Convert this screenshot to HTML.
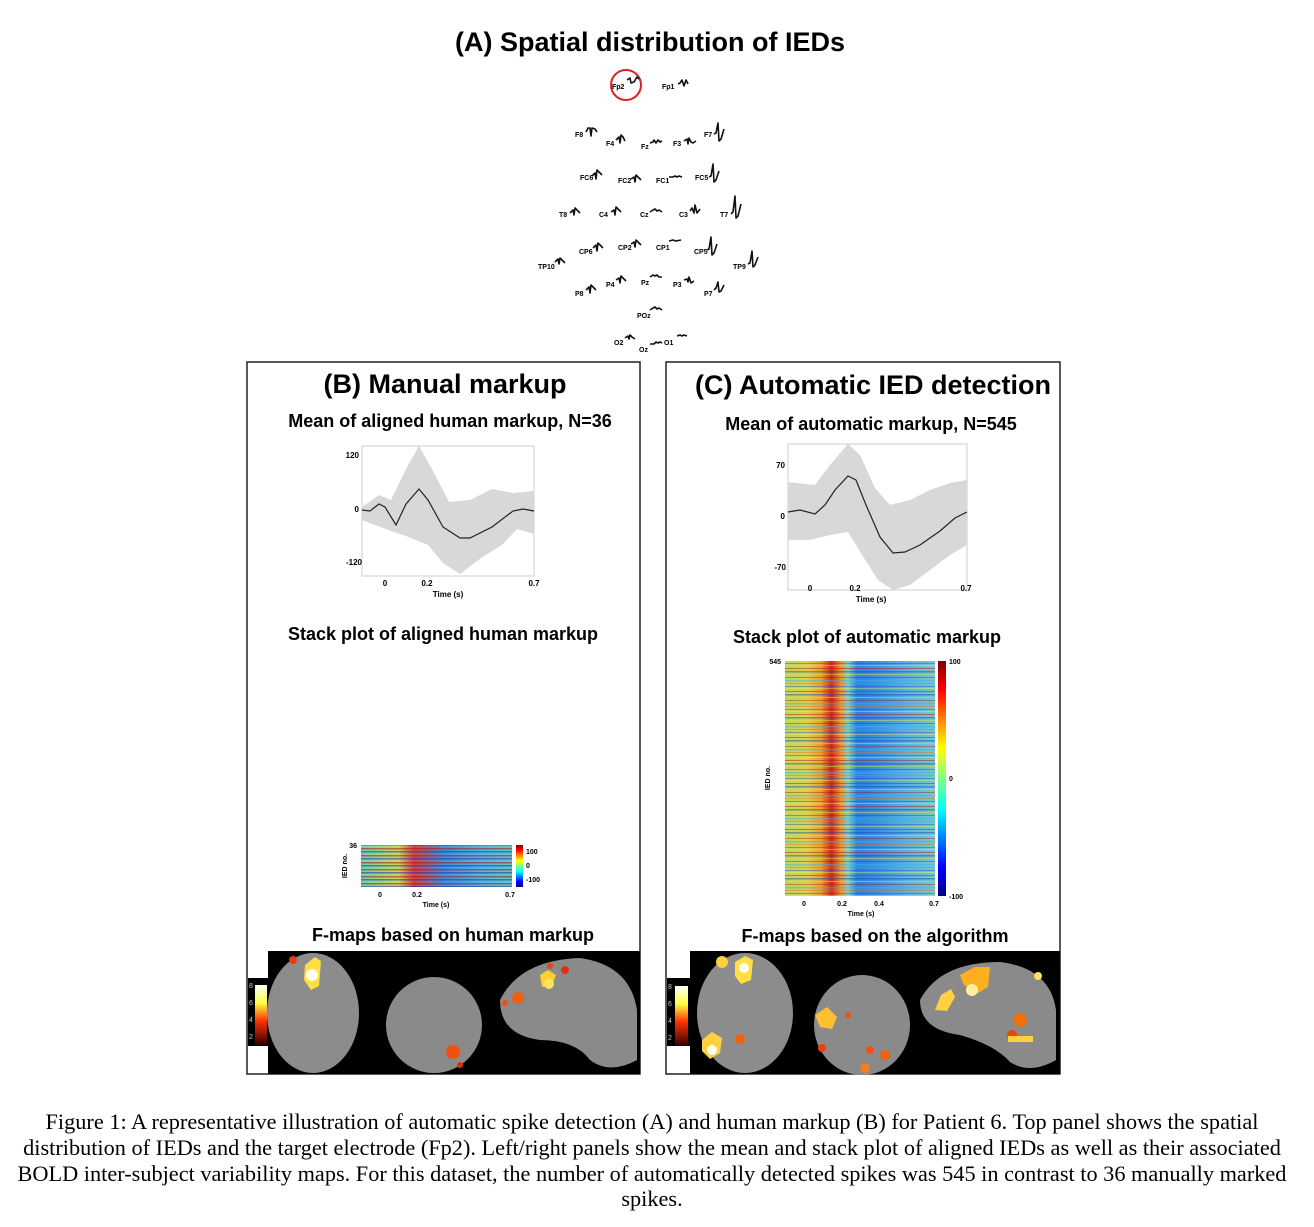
<!DOCTYPE html>
<html><head><meta charset="utf-8"><style>
body{margin:0;background:#fff;width:1314px;height:1227px;overflow:hidden}
svg{display:block}
.t{font-family:"Liberation Sans",sans-serif;font-weight:bold}
.cap{font-family:"Liberation Serif",serif;font-size:22.3px}
.e{font-family:"Liberation Sans",sans-serif;font-weight:bold;font-size:7px}
.w{fill:none;stroke:#111;stroke-width:1.6;stroke-linejoin:round}
</style></head><body>
<svg width="1314" height="1227" viewBox="0 0 1314 1227">
<defs>
<linearGradient id="hc" x1="0" x2="1" y1="0" y2="0">
<stop offset="0" stop-color="#b8d860"/><stop offset="0.15" stop-color="#d8d050"/><stop offset="0.24" stop-color="#e8a030"/>
<stop offset="0.31" stop-color="#c82820"/><stop offset="0.37" stop-color="#e89030"/><stop offset="0.42" stop-color="#80d0c0"/>
<stop offset="0.48" stop-color="#2a84e0"/><stop offset="0.6" stop-color="#3890e0"/><stop offset="0.8" stop-color="#58b0e0"/><stop offset="1" stop-color="#78c8c8"/>
</linearGradient>
<linearGradient id="hb" x1="0" x2="1" y1="0" y2="0">
<stop offset="0" stop-color="#70d0b0"/><stop offset="0.25" stop-color="#c8d858"/><stop offset="0.35" stop-color="#d84040"/>
<stop offset="0.55" stop-color="#4090e0"/><stop offset="0.8" stop-color="#50b8e0"/><stop offset="1" stop-color="#60c8c8"/>
</linearGradient>
<linearGradient id="jet" x1="0" x2="0" y1="0" y2="1">
<stop offset="0" stop-color="#800000"/><stop offset="0.12" stop-color="#ff0000"/><stop offset="0.37" stop-color="#ffff00"/>
<stop offset="0.5" stop-color="#80ff80"/><stop offset="0.63" stop-color="#00ffff"/><stop offset="0.88" stop-color="#0000ff"/><stop offset="1" stop-color="#000080"/>
</linearGradient>
<linearGradient id="hot" x1="0" x2="0" y1="0" y2="1">
<stop offset="0" stop-color="#ffffff"/><stop offset="0.3" stop-color="#ffff40"/><stop offset="0.6" stop-color="#ff3000"/><stop offset="1" stop-color="#300000"/>
</linearGradient>
<pattern id="st" width="150" height="23" patternUnits="userSpaceOnUse">
<rect y="1" width="150" height="1" fill="#c01818" opacity="0.5"/>
<rect y="4" width="150" height="1.5" fill="#1040c0" opacity="0.45"/>
<rect y="7" width="150" height="1" fill="#e0e040" opacity="0.5"/>
<rect y="10" width="150" height="1" fill="#a01010" opacity="0.4"/>
<rect y="13" width="150" height="1.5" fill="#40b0f0" opacity="0.5"/>
<rect y="16" width="150" height="1" fill="#f07020" opacity="0.45"/>
<rect y="19" width="150" height="1" fill="#2050d0" opacity="0.45"/>
<rect y="21" width="150" height="1" fill="#f0f060" opacity="0.4"/>
</pattern>
<pattern id="st2" width="150" height="7" patternUnits="userSpaceOnUse">
<rect y="1" width="150" height="1.5" fill="#b01010" opacity="0.55"/>
<rect y="4" width="150" height="1.5" fill="#1030b0" opacity="0.55"/>
</pattern>
</defs>

<text class="t" x="650" y="51" font-size="27" text-anchor="middle">(A) Spatial distribution of IEDs</text>
<circle cx="626" cy="85" r="15" fill="none" stroke="#e02020" stroke-width="2"/>
<g class="e">
<text x="612" y="89">Fp2</text><text x="662" y="89">Fp1</text>
<text x="575" y="137">F8</text><text x="606" y="146">F4</text><text x="641" y="149">Fz</text><text x="673" y="146">F3</text><text x="704" y="137">F7</text>
<text x="580" y="180">FC6</text><text x="618" y="183">FC2</text><text x="656" y="183">FC1</text><text x="695" y="180">FC5</text>
<text x="559" y="217">T8</text><text x="599" y="217">C4</text><text x="640" y="217">Cz</text><text x="679" y="217">C3</text><text x="720" y="217">T7</text>
<text x="579" y="254">CP6</text><text x="618" y="250">CP2</text><text x="656" y="250">CP1</text><text x="694" y="254">CP5</text>
<text x="538" y="269">TP10</text><text x="733" y="269">TP9</text>
<text x="575" y="296">P8</text><text x="606" y="287">P4</text><text x="641" y="285">Pz</text><text x="673" y="287">P3</text><text x="704" y="296">P7</text>
<text x="637" y="318">POz</text><text x="614" y="345">O2</text><text x="639" y="352">Oz</text><text x="664" y="345">O1</text>
</g>
<g class="w">
<path d="M627,80 l3,-2 l1,5 l3,-1 l3,-5 l2,2"/>
<path d="M678,84 l2,-1 l2,-3 l2,6 l2,-6 l2,4"/>
<path d="M586,132 l2,-4 l2,0 l1,8 l1,-8 l3,1 l2,3"/>
<path d="M616,140 l3,-3 l1,6 l1,-8 l2,2 l2,4"/>
<path d="M650,143 l3,-1 l1,-2 l2,3 l2,-3 l2,2 l2,-1"/>
<path d="M684,141 l3,-2 l1,5 l1,-6 l2,4 l2,1 l3,-2"/>
<path d="M714,134 l2,-1 l2,-10 l1,18 l2,-2 l3,-10"/>
<path d="M592,176 l3,-3 l1,6 l1,-9 l2,2 l3,3"/>
<path d="M631,179 l3,-2 l1,5 l1,-7 l2,2 l3,3"/>
<path d="M669,177 l4,0 l2,-1 l2,1 l2,-1 l3,1"/>
<path d="M709,177 l2,-1 l2,-12 l1,18 l2,-2 l3,-9"/>
<path d="M570,213 l3,-3 l1,5 l1,-7 l2,2 l3,3"/>
<path d="M611,212 l3,-2 l1,5 l1,-8 l2,2 l3,3"/>
<path d="M650,212 l3,-2 l2,-1 l2,2 l2,-1 l3,2"/>
<path d="M690,211 l2,-3 l2,5 l1,-8 l2,8 l3,-4"/>
<path d="M731,214 l2,-2 l2,-16 l1,22 l2,-2 l3,-12"/>
<path d="M593,248 l3,-3 l1,6 l1,-8 l2,2 l3,3"/>
<path d="M631,244 l3,-2 l1,5 l1,-7 l2,2 l3,3"/>
<path d="M669,241 l4,-1 l3,1 l5,-1"/>
<path d="M707,250 l2,-1 l2,-12 l1,18 l2,-2 l3,-9"/>
<path d="M555,262 l3,-3 l1,5 l1,-6 l2,2 l3,3"/>
<path d="M748,264 l2,-1 l2,-12 l1,16 l2,-2 l3,-8"/>
<path d="M586,290 l3,-3 l1,6 l1,-8 l2,2 l3,3"/>
<path d="M616,280 l3,-2 l1,5 l1,-7 l2,2 l3,3"/>
<path d="M650,277 l3,-2 l2,1 l2,-1 l2,2 l3,0"/>
<path d="M684,280 l3,-1 l1,3 l1,-5 l2,6 l3,-2"/>
<path d="M714,290 l2,-2 l2,-6 l1,10 l2,-1 l3,-6"/>
<path d="M650,310 l3,-2 l2,-1 l2,2 l2,-1 l3,2"/>
<path d="M625,338 l3,-2 l1,3 l1,-4 l2,2 l3,2"/>
<path d="M650,344 l4,0 l2,-2 l2,1 l2,-1 l2,1"/>
<path d="M677,336 l3,-1 l2,1 l2,-1 l3,1"/>
</g>

<rect x="247" y="362" width="393" height="712" fill="none" stroke="#222" stroke-width="1.5"/>
<rect x="666" y="362" width="394" height="712" fill="none" stroke="#222" stroke-width="1.5"/>

<text class="t" x="445" y="393" font-size="27" text-anchor="middle">(B) Manual markup</text>
<text class="t" x="450" y="427" font-size="18" text-anchor="middle">Mean of aligned human markup, N=36</text>
<rect x="362" y="446" width="172" height="130" fill="#fff" stroke="#ccc"/>
<path d="M362,507 L379,495 L391,500 L406,469 L419,446 L432,469 L449,502 L470,500 L492,489 L513,493 L534,491 L534,534 L517,529 L502,545 L481,558 L460,574 L443,563 L428,545 L406,536 L391,531 L362,520Z" fill="#d8d8d8"/>
<polyline fill="none" stroke="#222" stroke-width="1.2" points="362,510 370,511 379,504 385,507 396,525 406,504 419,489 428,500 443,527 460,538 470,538 492,527 513,511 523,509 534,511"/>
<g class="t" font-size="8">
<text x="359" y="458" text-anchor="end">120</text><text x="359" y="512" text-anchor="end">0</text><text x="362" y="565" text-anchor="end">-120</text>
<text x="385" y="586" text-anchor="middle">0</text><text x="427" y="586" text-anchor="middle">0.2</text><text x="534" y="586" text-anchor="middle">0.7</text>
<text x="448" y="597" text-anchor="middle">Time (s)</text>
</g>
<text class="t" x="443" y="640" font-size="18" text-anchor="middle">Stack plot of aligned human markup</text>
<rect x="361" y="845" width="151" height="42" fill="url(#hb)"/>
<rect x="361" y="845" width="151" height="42" fill="url(#st2)"/>
<rect x="516" y="845" width="7" height="42" fill="url(#jet)"/>
<g class="t" font-size="7">
<text x="357" y="848" text-anchor="end">36</text>
<text x="347" y="866" text-anchor="middle" transform="rotate(-90 347 866)">IED no.</text>
<text x="526" y="854">100</text><text x="526" y="868">0</text><text x="526" y="882">-100</text>
<text x="380" y="897" text-anchor="middle">0</text><text x="417" y="897" text-anchor="middle">0.2</text><text x="510" y="897" text-anchor="middle">0.7</text>
<text x="436" y="907" text-anchor="middle">Time (s)</text>
</g>
<text class="t" x="453" y="941" font-size="18" text-anchor="middle">F-maps based on human markup</text>
<rect x="268" y="951" width="372" height="123" fill="#000"/>
<rect x="248" y="978" width="20" height="68" fill="#000"/>
<rect x="255" y="985" width="12" height="60" fill="url(#hot)"/>
<g fill="#ccc" font-family="Liberation Sans" font-size="7"><text x="249" y="988">8</text><text x="249" y="1005">6</text><text x="249" y="1022">4</text><text x="249" y="1039">2</text></g>
<ellipse cx="313" cy="1013" rx="46" ry="60" fill="#8c8c8c"/>
<ellipse cx="434" cy="1025" rx="48" ry="48" fill="#8a8a8a"/>
<path d="M500,1000 Q520,960 580,958 Q630,965 637,1010 L637,1060 Q610,1075 590,1060 Q575,1040 540,1040 Q500,1035 500,1000Z" fill="#8a8a8a"/>
<path d="M305,965 l10,-8 l6,4 l-2,25 l-8,4 l-7,-10Z" fill="#ffe040"/><circle cx="312" cy="975" r="6" fill="#fffff0"/>
<circle cx="293" cy="960" r="4" fill="#e04010"/><circle cx="453" cy="1052" r="7" fill="#f05010"/><circle cx="460" cy="1065" r="3" fill="#e03000"/>
<path d="M540,975 l8,-5 l8,5 l-4,10 l-10,2Z" fill="#ffd030"/><circle cx="518" cy="998" r="6" fill="#f06010"/><circle cx="505" cy="1003" r="3" fill="#f05010"/>
<circle cx="550" cy="966" r="3" fill="#f04010"/><circle cx="565" cy="970" r="4" fill="#e03010"/><circle cx="549" cy="984" r="5" fill="#ffe060"/>

<text class="t" x="873" y="394" font-size="27" text-anchor="middle">(C) Automatic IED detection</text>
<text class="t" x="871" y="430" font-size="18" text-anchor="middle">Mean of automatic markup, N=545</text>
<rect x="788" y="444" width="179" height="146" fill="#fff" stroke="#ccc"/>
<path d="M788,482 L815,485 L830,465 L848,444 L860,455 L875,488 L890,505 L910,500 L930,490 L950,483 L967,480 L967,545 L950,555 L930,570 L910,585 L893,590 L878,580 L862,555 L848,532 L830,535 L810,540 L788,540Z" fill="#d8d8d8"/>
<polyline fill="none" stroke="#222" stroke-width="1.2" points="788,512 800,510 815,514 825,505 835,490 848,476 856,480 866,505 880,537 893,553 905,552 920,545 940,531 955,518 967,512"/>
<g class="t" font-size="8">
<text x="785" y="468" text-anchor="end">70</text><text x="785" y="519" text-anchor="end">0</text><text x="786" y="570" text-anchor="end">-70</text>
<text x="810" y="591" text-anchor="middle">0</text><text x="855" y="591" text-anchor="middle">0.2</text><text x="966" y="591" text-anchor="middle">0.7</text>
<text x="871" y="602" text-anchor="middle">Time (s)</text>
</g>
<text class="t" x="867" y="643" font-size="18" text-anchor="middle">Stack plot of automatic markup</text>
<rect x="785" y="661" width="150" height="235" fill="url(#hc)"/>
<rect x="785" y="661" width="150" height="235" fill="url(#st)"/>
<rect x="938" y="661" width="8" height="235" fill="url(#jet)"/>
<g class="t" font-size="7">
<text x="781" y="664" text-anchor="end">545</text>
<text x="770" y="778" text-anchor="middle" transform="rotate(-90 770 778)">IED no.</text>
<text x="949" y="664">100</text><text x="949" y="781">0</text><text x="949" y="899">-100</text>
<text x="804" y="906" text-anchor="middle">0</text><text x="842" y="906" text-anchor="middle">0.2</text><text x="879" y="906" text-anchor="middle">0.4</text><text x="934" y="906" text-anchor="middle">0.7</text>
<text x="861" y="916" text-anchor="middle">Time (s)</text>
</g>
<text class="t" x="875" y="942" font-size="18" text-anchor="middle">F-maps based on the algorithm</text>
<rect x="690" y="951" width="370" height="123" fill="#000"/>
<rect x="667" y="978" width="23" height="68" fill="#000"/>
<rect x="675" y="986" width="13" height="60" fill="url(#hot)"/>
<g fill="#ccc" font-family="Liberation Sans" font-size="7"><text x="668" y="989">8</text><text x="668" y="1006">6</text><text x="668" y="1023">4</text><text x="668" y="1040">2</text></g>
<ellipse cx="745" cy="1013" rx="48" ry="60" fill="#8c8c8c"/>
<ellipse cx="862" cy="1025" rx="48" ry="50" fill="#8a8a8a"/>
<path d="M920,1000 Q940,962 1000,962 Q1050,968 1056,1010 L1056,1060 Q1030,1075 1010,1062 Q995,1045 960,1035 Q920,1030 920,1000Z" fill="#8a8a8a"/>
<path d="M735,962 l10,-6 l8,4 l-2,20 l-10,4 l-6,-8Z" fill="#ffe040"/><circle cx="722" cy="962" r="6" fill="#ffd040"/><circle cx="744" cy="968" r="5" fill="#fffff0"/>
<path d="M702,1040 l10,-8 l10,6 l-2,15 l-10,6 l-8,-8Z" fill="#ffd040"/><circle cx="712" cy="1050" r="5" fill="#fffff0"/><circle cx="740" cy="1039" r="5" fill="#f06010"/>
<path d="M815,1015 l12,-8 l10,10 l-5,12 l-12,-2Z" fill="#ffc030"/><circle cx="822" cy="1048" r="4" fill="#f04010"/><circle cx="870" cy="1050" r="4" fill="#f05010"/><circle cx="885" cy="1055" r="5" fill="#f06010"/><circle cx="865" cy="1068" r="5" fill="#f08020"/><circle cx="848" cy="1015" r="3" fill="#f05010"/>
<path d="M935,1010 l6,-15 l10,-6 l4,8 l-8,14 Z" fill="#ffd040"/><path d="M960,975 l15,-8 l15,0 l-2,20 l-10,6 l-14,-8Z" fill="#ffb020"/><circle cx="972" cy="990" r="6" fill="#fff0a0"/>
<circle cx="1020" cy="1020" r="7" fill="#f07010"/><circle cx="1012" cy="1035" r="5" fill="#f04010"/><rect x="1008" y="1036" width="25" height="6" fill="#ffd040"/><circle cx="1038" cy="976" r="4" fill="#ffe060"/>

<g class="cap" text-anchor="middle">
<text x="652" y="1129">Figure 1: A representative illustration of automatic spike detection (A) and human markup (B) for Patient 6. Top panel shows the spatial</text>
<text x="652" y="1155">distribution of IEDs and the target electrode (Fp2). Left/right panels show the mean and stack plot of aligned IEDs as well as their associated</text>
<text x="652" y="1181">BOLD inter-subject variability maps. For this dataset, the number of automatically detected spikes was 545 in contrast to 36 manually marked</text>
<text x="652" y="1206">spikes.</text>
</g>
</svg>
</body></html>
